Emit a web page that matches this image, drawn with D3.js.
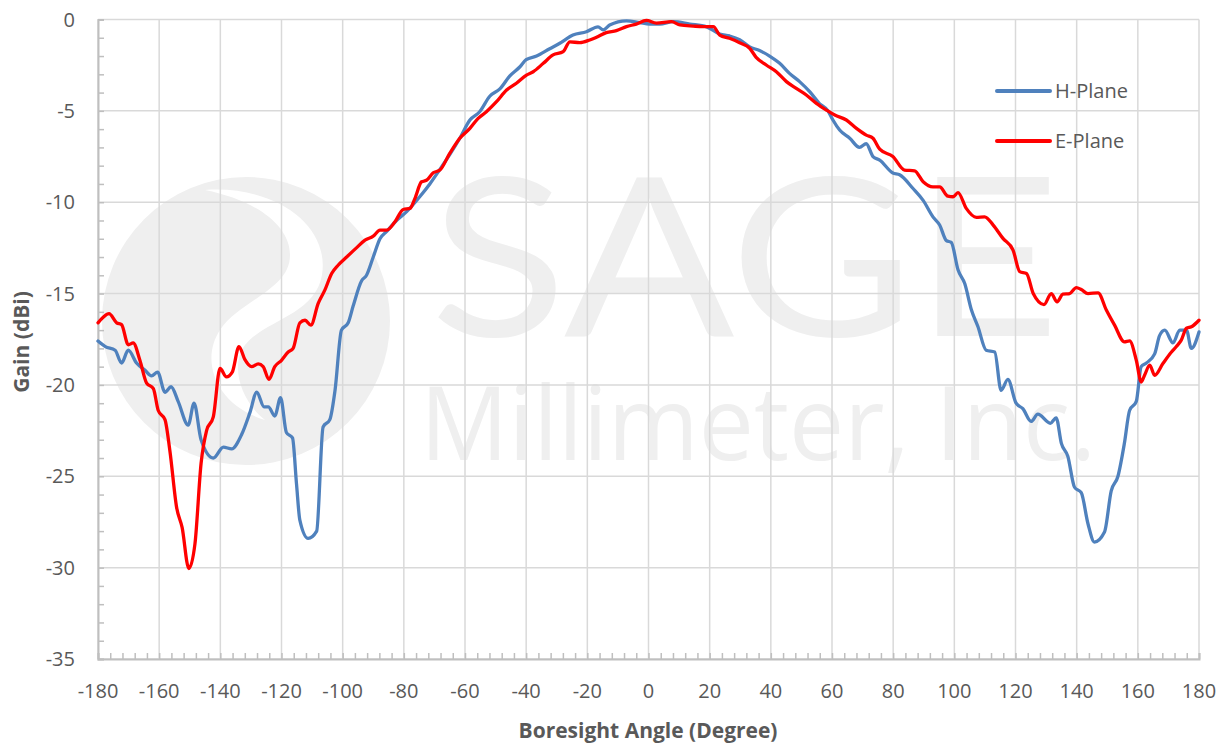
<!DOCTYPE html>
<html>
<head>
<meta charset="utf-8">
<script src="https://cdn.jsdelivr.net/npm/d3@7"></script>
<style>
  body { margin: 0; background: #fff; }
  text { font-family: "Open Sans", "DejaVu Sans", sans-serif; }
</style>
</head>
<body>
<div id="chart"></div>
<script>
// Data (angle in degrees, gain in dBi)
var hAngle = [-180,-177.6,-174.4,-172.3,-170.1,-167.4,-164.6,-162.5,-160.5,-158.1,-156.1,-153.8,-150.5,-148.6,-146.3,-142.3,-139,-136.3,-133,-130.3,-128.1,-125.7,-124.3,-122.2,-120.3,-118.4,-116.4,-115.1,-114,-111.3,-108.5,-106.4,-104.2,-102.5,-100.4,-98.2,-96.6,-93.8,-92.2,-90,-87.8,-85.6,-82.4,-79,-74.8,-71.5,-68.2,-65,-61.7,-58.4,-55.2,-51.9,-48.6,-45.4,-42.1,-40,-36.6,-32.3,-29,-24.7,-20.3,-16.5,-14.8,-12.7,-7.2,-2.9,0.4,3.7,8.1,13.5,19,23.3,26.5,29.8,33.1,36.3,39.6,42.9,46.1,49.4,52.7,55.9,58.7,60.3,62.5,65.8,69,71.2,73.4,75.6,79.9,82.1,86.5,89.8,93,95.2,97.4,99,101.2,103.4,105.6,107.7,110.4,113.2,115.3,117.5,120.2,122.4,125.1,127.3,131.4,133.3,135,137.1,139.3,141.5,143.7,145.8,149.1,151.3,153.5,155.6,157.3,159.5,161.1,162.8,165.5,167.1,168.8,171.5,173.7,175.9,177.5,180];
var hGain = [-17.6,-17.9,-18.1,-18.8,-18.1,-18.8,-19.2,-19.5,-19.3,-20.4,-20.1,-20.9,-22.2,-21.0,-23.0,-24.0,-23.4,-23.5,-22.7,-21.5,-20.4,-21.2,-21.2,-21.7,-20.7,-22.6,-22.9,-25.4,-27.4,-28.4,-28.0,-22.3,-21.9,-20.3,-17.0,-16.6,-15.7,-14.3,-14.0,-13.0,-12.0,-11.6,-11.0,-10.5,-9.7,-9.0,-8.2,-7.4,-6.5,-5.5,-5.05,-4.2,-3.8,-3.1,-2.6,-2.2,-2.0,-1.6,-1.3,-0.85,-0.67,-0.4,-0.57,-0.3,-0.07,-0.17,-0.25,-0.25,-0.12,-0.25,-0.4,-0.8,-0.9,-1.1,-1.5,-1.7,-2.0,-2.4,-2.95,-3.4,-3.95,-4.6,-5.0,-5.5,-6.05,-6.5,-7.0,-6.8,-7.5,-7.7,-8.4,-8.5,-9.25,-9.9,-10.8,-11.25,-12.1,-12.2,-13.7,-14.45,-15.9,-16.8,-18.1,-18.2,-20.3,-19.7,-21.0,-21.3,-22.0,-21.6,-22.1,-21.8,-23.2,-23.9,-25.6,-25.9,-27.6,-28.6,-28.05,-25.8,-25.0,-23.2,-21.4,-20.9,-19.0,-18.8,-18.3,-17.3,-17.0,-17.7,-17.0,-17.0,-18.0,-17.1];

var eAngle = [-180,-178.3,-176.4,-173.9,-172.3,-170.1,-168.5,-166.3,-164.1,-161.9,-160.3,-158.1,-156.5,-154.3,-152.5,-150.3,-148.3,-146.3,-144.5,-142.3,-140.1,-138,-136.1,-133.9,-132,-129.8,-127.6,-126,-124.1,-122.2,-120,-117.8,-116.2,-114,-112.3,-110.4,-108,-105.8,-103.6,-101.5,-98.7,-95.5,-92.7,-90,-87.8,-85.6,-82.9,-80.2,-78,-76.4,-74.2,-72.6,-70.4,-68.2,-65,-61.7,-58.4,-55.7,-53,-49.7,-46.4,-43.2,-39.9,-37.7,-34.4,-31.2,-27.9,-25.7,-22.5,-19.2,-17,-13.8,-10.5,-7.2,-4,-0.7,2.6,7.5,10.3,14.6,17.9,21.2,23.3,26.5,29.8,33.1,35.2,38.5,41.8,45.1,48.3,51.6,54.9,58.2,60.9,64.7,68,71.2,73.4,75.6,79.9,83.7,87,89.8,93,95.2,97.9,99.6,101.2,103.9,107.2,109.9,112.7,115.9,119.2,121.4,123.6,125.8,129.3,131.7,133.6,135.5,137.7,139.9,141.5,143.7,147,149.7,152.4,155.6,157.3,159.5,161.1,162.2,163.9,165.5,168.2,171,172.6,174.2,175.9,177.5,180];
var eGain = [-16.6,-16.3,-16.1,-16.6,-16.7,-17.8,-17.7,-18.65,-19.9,-20.2,-21.4,-21.9,-23.6,-26.7,-27.8,-30.05,-28.7,-24.3,-22.5,-21.75,-19.1,-19.56,-19.3,-17.9,-18.6,-19.0,-18.85,-19.0,-19.7,-19.0,-18.65,-18.2,-18.0,-16.6,-16.46,-16.73,-15.54,-14.8,-13.9,-13.45,-13.0,-12.5,-12.08,-11.86,-11.53,-11.53,-11.07,-10.4,-10.34,-9.8,-8.88,-8.8,-8.39,-8.24,-7.33,-6.5,-5.96,-5.41,-5.05,-4.5,-3.86,-3.49,-3.04,-2.86,-2.4,-1.94,-1.76,-1.22,-1.27,-1.12,-0.97,-0.72,-0.61,-0.39,-0.25,-0.05,-0.2,-0.12,-0.3,-0.36,-0.39,-0.39,-0.85,-1.03,-1.27,-1.58,-2.07,-2.49,-2.86,-3.4,-3.77,-4.13,-4.59,-4.96,-5.23,-5.5,-5.96,-6.33,-6.5,-7.1,-7.5,-8.24,-8.28,-8.88,-9.16,-9.16,-9.67,-9.7,-9.48,-10.34,-10.83,-10.8,-11.25,-11.98,-12.62,-13.8,-13.9,-15.0,-15.6,-15.0,-15.45,-15.03,-15.0,-14.67,-14.78,-15.0,-14.96,-15.9,-16.73,-17.64,-17.59,-18.65,-19.84,-19.47,-18.92,-19.47,-18.83,-18.2,-17.9,-17.55,-16.9,-16.82,-16.46];

var xTicks = d3.range(-180, 181, 20);
var yTicks = d3.range(0, -36, -5);
var seriesNames = ["H-Plane", "E-Plane"];
var seriesColors = ["#4f81bd", "#ff0000"];

var svgWidth = 1226, svgHeight = 747;
var margin = { top: 19.5, right: 27, bottom: 88, left: 98 };
var width = svgWidth - margin.left - margin.right;
var height = svgHeight - margin.top - margin.bottom;

var svg = d3.select("#chart").append("svg")
    .attr("width", svgWidth)
    .attr("height", svgHeight);

// watermark first so it sits behind everything
var wm = svg.append("g").attr("fill", "#efefef");
wm.append("circle").attr("cx", 246).attr("cy", 321).attr("r", 144);
wm.append("path")
    .attr("d", "M205,190 C275,185 330,225 322,275 C315,315 265,320 245,345 C230,365 240,400 265,420 C215,405 200,360 220,330 C240,300 290,290 290,255 C290,225 255,200 205,190 Z")
    .attr("fill", "#ffffff");
wm.append("text")
    .attr("x", 430).attr("y", 336)
    .attr("font-size", 222)
    .attr("textLength", 630).attr("lengthAdjust", "spacingAndGlyphs")
    .style("font-family", "Lato, 'Open Sans', sans-serif")
    .text("SAGE");
wm.append("text")
    .attr("x", 420).attr("y", 460)
    .attr("font-size", 102)
    .attr("textLength", 676).attr("lengthAdjust", "spacingAndGlyphs")
    .style("font-family", "'Open Sans', sans-serif")
    .text("Millimeter, Inc.");

var g = svg.append("g")
    .attr("transform", `translate(${margin.left}, ${margin.top})`);

var x = d3.scaleLinear().domain([-180, 180]).range([0, width]);
var y = d3.scaleLinear().domain([-35, 0]).range([height, 0]);

// grid
g.append("g").selectAll("line").data(xTicks).enter().append("line")
    .attr("x1", d => x(d)).attr("x2", d => x(d))
    .attr("y1", 0).attr("y2", height)
    .attr("stroke", "#d9d9d9").attr("stroke-width", 1.5);
g.append("g").selectAll("line").data(yTicks).enter().append("line")
    .attr("x1", 0).attr("x2", width)
    .attr("y1", d => y(d)).attr("y2", d => y(d))
    .attr("stroke", "#d9d9d9").attr("stroke-width", 1.5);

// axes with minor ticks pointing inward
var xAxis = d3.axisBottom(x).tickValues(d3.range(-180, 181, 4)).tickSize(-6).tickFormat("");
var yAxis = d3.axisLeft(y).tickValues(d3.range(-35, 1, 1)).tickSize(-6).tickFormat("");

var gx = g.append("g").attr("transform", `translate(0, ${height})`).call(xAxis);
var gy = g.append("g").call(yAxis);
[gx, gy].forEach(function(a) {
    a.select(".domain").attr("stroke", "#bfbfbf").attr("stroke-width", 2);
    a.selectAll(".tick line").attr("stroke", "#bfbfbf").attr("stroke-width", 1.5);
});

// tick labels
g.append("g").selectAll("text").data(xTicks).enter().append("text")
    .attr("x", d => x(d)).attr("y", height + 39)
    .attr("text-anchor", "middle")
    .attr("font-size", 20).attr("fill", "#595959")
    .text(d => d);
g.append("g").selectAll("text").data(yTicks).enter().append("text")
    .attr("x", -23).attr("y", d => y(d) + 7)
    .attr("text-anchor", "end")
    .attr("font-size", 20).attr("fill", "#595959")
    .text(d => d);

// axis titles
svg.append("text")
    .attr("x", 648).attr("y", 738)
    .attr("text-anchor", "middle")
    .attr("font-size", 21).attr("font-weight", "bold").attr("fill", "#595959")
    .text("Boresight Angle (Degree)");
svg.append("text")
    .attr("transform", "translate(29, 342) rotate(-90)")
    .attr("text-anchor", "middle")
    .attr("font-size", 21).attr("font-weight", "bold").attr("fill", "#595959")
    .text("Gain (dBi)");

// lines
var line = d3.line()
    .x(d => x(d[0]))
    .y(d => y(d[1]))
    .curve(d3.curveMonotoneX);

var hData = d3.zip(hAngle, hGain);
var eData = d3.zip(eAngle, eGain);

g.append("path").datum(hData)
    .attr("d", line).attr("fill", "none")
    .attr("stroke", seriesColors[0]).attr("stroke-width", 3.3)
    .attr("stroke-linejoin", "round").attr("stroke-linecap", "round");
g.append("path").datum(eData)
    .attr("d", line).attr("fill", "none")
    .attr("stroke", seriesColors[1]).attr("stroke-width", 3.3)
    .attr("stroke-linejoin", "round").attr("stroke-linecap", "round");

// legend
var legend = svg.append("g").selectAll("g").data(seriesNames).enter().append("g")
    .attr("transform", (d, i) => `translate(997, ${91 + i * 50})`);
legend.append("line")
    .attr("x1", 0).attr("x2", 53).attr("y1", 0).attr("y2", 0)
    .attr("stroke", (d, i) => seriesColors[i]).attr("stroke-width", 4)
    .attr("stroke-linecap", "round");
legend.append("text")
    .attr("x", 58).attr("y", 7)
    .attr("font-size", 20).attr("fill", "#595959")
    .text(d => d);
</script>
</body>
</html>
